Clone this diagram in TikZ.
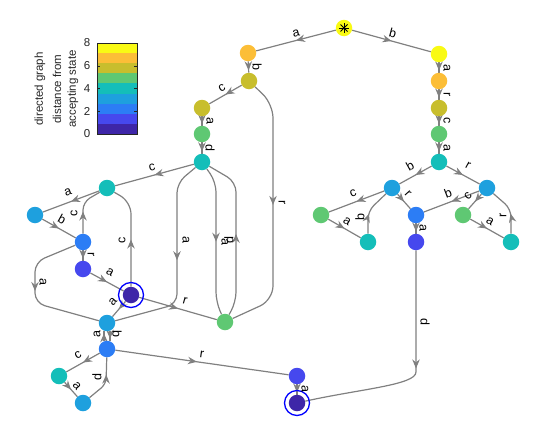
\documentclass[tikz,border=0pt]{standalone}
\usepackage{fontspec}
\setmainfont{Liberation Sans}
\usetikzlibrary{arrows.meta,decorations.markings}
\pgfdeclarelayer{edgelayer}
\pgfsetlayers{edgelayer,main}
\definecolor{p0}{RGB}{62,38,168}
\definecolor{p1}{RGB}{70,72,238}
\definecolor{p2}{RGB}{44,125,245}
\definecolor{p3}{RGB}{30,160,222}
\definecolor{p4}{RGB}{20,190,185}
\definecolor{p5}{RGB}{95,200,115}
\definecolor{p6}{RGB}{200,190,45}
\definecolor{p7}{RGB}{252,190,55}
\definecolor{p8}{RGB}{249,250,20}
\definecolor{edgegray}{RGB}{128,128,128}
\definecolor{axisgray}{RGB}{38,38,38}
\begin{document}
\begin{tikzpicture}[x=1pt,y=-1pt,
  st/.style={circle,fill=#1,minimum size=16.5pt,inner sep=0pt},
  lbl/.style={font=\fontsize{12.5}{14}\selectfont,inner sep=0pt},
  leg/.style={font=\fontsize{11.5}{13}\selectfont,inner sep=0pt,text=axisgray},
  ed/.style={draw=edgegray,line width=1.2pt},
  arr/.style={postaction={decorate,decoration={markings,mark=at position #1 with {\arrow[edgegray]{Stealth[length=9pt,width=7.5pt,inset=3pt]}}}}},
  arr/.default=0.5,
  acc/.style={draw=blue,line width=1.3pt}
]
\useasboundingbox (0,0) rectangle (538,431);

% ---------- legend ----------
\foreach \i in {0,...,8}{
  \fill[p\i] (97,{134-\i*91/9}) rectangle (137,{134-(\i+1)*91/9});
}
\draw[axisgray,line width=0.5pt] (97,43) rectangle (137,134);
\foreach \v in {0,2,4,6,8}{
  \draw[axisgray,line width=0.5pt] (97,{134-11.375*\v}) -- ++(3,0);
  \draw[axisgray,line width=0.5pt] (137,{134-11.375*\v}) -- ++(-3,0);
}
\node[leg] (t0) at (87,134) {0};
\node[leg] (t2) at (87,111.25) {2};
\node[leg] (t4) at (87,88.5) {4};
\node[leg] (t6) at (87,65.75) {6};
\node[leg] (t8) at (87,43) {8};
\node[leg,rotate=90] (lg1) at (40,89) {directed graph};
\node[leg,rotate=90] (lg2) at (57,89) {distance from};
\node[leg,rotate=90] (lg3) at (73,89) {accepting state};

% ---------- states ----------
\node[st=p8] (S) at (344,28) {};
\node[st=p7] (A1) at (248,53) {};
\node[st=p6] (A2) at (249,81) {};
\node[st=p6] (A3) at (202,108) {};
\node[st=p5] (A4) at (202,134) {};
\node[st=p4] (A5) at (202,162) {};
\node[st=p8] (B1) at (439,54) {};
\node[st=p7] (B2) at (439,81) {};
\node[st=p6] (B3) at (439,108) {};
\node[st=p5] (B4) at (439,134) {};
\node[st=p4] (B5) at (439,162) {};
\node[st=p3] (R1) at (392,188) {};
\node[st=p3] (R2) at (487,188) {};
\node[st=p5] (R3) at (321,215) {};
\node[st=p4] (R4) at (368,242) {};
\node[st=p2] (R5) at (416,215) {};
\node[st=p1] (R6) at (416,242) {};
\node[st=p5] (R7) at (463,215) {};
\node[st=p4] (R8) at (511,242) {};
\node[st=p4] (L1) at (107,188) {};
\node[st=p3] (L2) at (35,215) {};
\node[st=p2] (L3) at (83,242) {};
\node[st=p1] (L4) at (83,269) {};
\node[st=p0] (D) at (131,295) {};
\node[st=p3] (Q1) at (107,323) {};
\node[st=p2] (Q2) at (107,349) {};
\node[st=p4] (Q3) at (59,376) {};
\node[st=p3] (Q4) at (83,403) {};
\node[st=p5] (G) at (225,322) {};
\node[st=p1] (E1) at (297,376) {};
\node[st=p0] (E2) at (297,403) {};

% start marker and accepting rings
\draw[line width=1pt] ([xshift=-5pt]S.center) -- ([xshift=5pt]S.center);
\draw[line width=1pt] ([yshift=-5pt]S.center) -- ([yshift=5pt]S.center);
\draw[line width=1pt] ([xshift=-3.5pt,yshift=-3.5pt]S.center) -- ([xshift=3.5pt,yshift=3.5pt]S.center);
\draw[line width=1pt] ([xshift=-3.5pt,yshift=3.5pt]S.center) -- ([xshift=3.5pt,yshift=-3.5pt]S.center);
\draw[acc] (D.center) circle[radius=12.5pt];
\draw[acc] (E2.center) circle[radius=12.5pt];

% ---------- transitions ----------
\begin{pgfonlayer}{edgelayer}
\draw[ed,arr] (S) -- (A1);
\draw[ed,arr] (S) -- (B1);
\draw[ed,arr=0.8] (A1) -- (A2);
\draw[ed,arr] (A2) -- (A3);
\draw[ed,arr=0.8] (A3) -- (A4);
\draw[ed,arr=0.8] (A4) -- (A5);
\draw[ed,arr=124pt,rounded corners=14pt] (A2) -- (273,104) -- (273,300) -- (G);
\draw[ed,arr] (A5) -- (L1);
\draw[ed,arr=100pt,rounded corners=10pt] (A5) -- (177,183) -- (177,304) -- (Q1);
\draw[ed,arr=75pt,rounded corners=10pt] (A5) -- (216,182) -- (216,302) -- (G);
\draw[ed,arr=82pt,rounded corners=10pt] (G) -- (236,302) -- (236,182) -- (A5);
\draw[ed,arr] (L1) -- (L2);
\draw[ed,arr] (L2) -- (L3);
\draw[ed,arr=22pt,rounded corners=8pt] (L3) -- (83,202) -- (L1);
\draw[ed,arr=47pt,rounded corners=12pt] (D) -- (131,202) -- (L1);
\draw[ed,arr=0.8] (L3) -- (L4);
\draw[ed,arr] (L4) -- (D);
\draw[ed,arr=70pt,rounded corners=10pt] (L3) -- (35,262) -- (35,303) -- (Q1);
\draw[ed,arr] (D) -- (G);
\draw[ed,arr] (D) -- (Q1);
\draw[ed,arr=0.8] ([xshift=-3pt]Q2.north) -- ([xshift=-3pt]Q1.south);
\draw[ed,arr=0.8] ([xshift=3pt]Q1.south) -- ([xshift=3pt]Q2.north);
\draw[ed,arr] (Q2) -- (Q3);
\draw[ed,arr] (Q3) -- (Q4);
\draw[ed,arr=30pt,rounded corners=6pt] (Q4) -- (106,384) -- (Q2);
\draw[ed,arr=0.47] (Q2) -- (E1);
\draw[ed,arr=0.8] (E1) -- (E2);
\draw[ed,arr=118pt] (R6) -- (416,372) .. controls (416,385) and (360,389) .. (E2);
\draw[ed,arr=0.8] (B1) -- (B2);
\draw[ed,arr=0.8] (B2) -- (B3);
\draw[ed,arr=0.8] (B3) -- (B4);
\draw[ed,arr=0.8] (B4) -- (B5);
\draw[ed,arr] (B5) -- (R1);
\draw[ed,arr] (B5) -- (R2);
\draw[ed,arr] (R1) -- (R3);
\draw[ed,arr] (R3) -- (R4);
\draw[ed,arr=20pt,rounded corners=8pt] (R4) -- (368,211) -- (R1);
\draw[ed,arr] (R1) -- (R5);
\draw[ed,arr=0.8] (R5) -- (R6);
\draw[ed,arr] (R2) -- (R5);
\draw[ed,arr] (R2) -- (R7);
\draw[ed,arr] (R7) -- (R8);
\draw[ed,arr=20pt,rounded corners=8pt] (R8) -- (511,209) -- (R2);
\end{pgfonlayer}

% ---------- labels ----------
\node[lbl,rotate=15] (lSA) at (296,33) {a};
\node[lbl,rotate=-15] (lSB) at (393,33) {b};
\node[lbl,rotate=-90] (lA12) at (257,67) {b};
\node[lbl,rotate=30] (lA23) at (222,88) {c};
\node[lbl,rotate=-90] (lA34) at (210,121) {a};
\node[lbl,rotate=-90] (lA45) at (210,148) {d};
\node[lbl,rotate=-90] (lA2G) at (282,203) {r};
\node[lbl,rotate=15] (lA5L1) at (152,167) {c};
\node[lbl,rotate=-90] (lA5Q1) at (186,240) {a};
\node[lbl,rotate=-90] (lA5G) at (225,242) {a};
\node[lbl,rotate=90] (lGA5) at (229,240) {d};
\node[lbl,rotate=20] (lL12) at (68,192) {a};
\node[lbl,rotate=-29] (lL23) at (62,219) {b};
\node[lbl,rotate=90] (lL31) at (74,213) {c};
\node[lbl,rotate=90] (lDL1) at (122,240) {c};
\node[lbl,rotate=-90] (lL34) at (91,255) {r};
\node[lbl,rotate=-28] (lL4D) at (110,272) {a};
\node[lbl,rotate=-90] (lL3Q1) at (43,282) {a};
\node[lbl,rotate=-16] (lDG) at (185,301) {r};
\node[lbl,rotate=49] (lDQ1) at (113,302) {a};
\node[lbl,rotate=90] (lQ21) at (97,334) {a};
\node[lbl,rotate=-90] (lQ12) at (117,334) {b};
\node[lbl,rotate=29] (lQ23) at (78,355) {c};
\node[lbl,rotate=-49] (lQ34) at (77,386) {a};
\node[lbl,rotate=90] (lQ42) at (97,377) {d};
\node[lbl,rotate=-8] (lQ2E1) at (202,354) {r};
\node[lbl,rotate=-90] (lE12) at (305,389) {a};
\node[lbl,rotate=-90] (lR6E2) at (425,322) {d};
\node[lbl,rotate=-90] (lB12) at (447,68) {a};
\node[lbl,rotate=-90] (lB23) at (447,95) {r};
\node[lbl,rotate=-90] (lB34) at (447,121) {c};
\node[lbl,rotate=-90] (lB45) at (447,148) {a};
\node[lbl,rotate=29] (lB5R1) at (410,166) {b};
\node[lbl,rotate=-29] (lB5R2) at (468,166) {r};
\node[lbl,rotate=21] (lR13) at (353,193) {c};
\node[lbl,rotate=-30] (lR34) at (347,221) {a};
\node[lbl,rotate=90] (lR41) at (360,217) {b};
\node[lbl,rotate=-48] (lR15) at (408,194) {r};
\node[lbl,rotate=-90] (lR56) at (423,228) {a};
\node[lbl,rotate=21] (lR25) at (448,193) {b};
\node[lbl,rotate=48] (lR27) at (468,196) {c};
\node[lbl,rotate=-30] (lR78) at (490,221) {a};
\node[lbl,rotate=90] (lR82) at (503,215) {r};
\end{tikzpicture}
\end{document}
